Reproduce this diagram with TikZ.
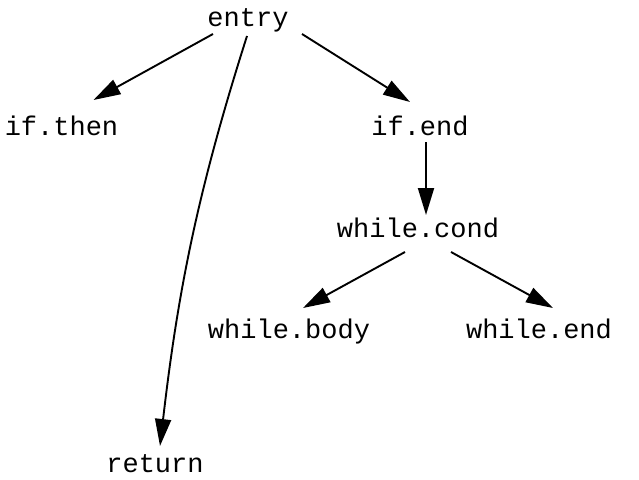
\documentclass[tikz,border=0pt]{standalone}
\usepackage{fontspec}
\setmonofont{Liberation Mono}
\usetikzlibrary{arrows.meta,calc}
\tikzset{
  lbl/.style={anchor=base, inner sep=0pt, font=\fontsize{27}{29}\selectfont\ttfamily},
  edge/.style={line width=1.9pt, -{Triangle[length=27pt,width=16pt]}}
}
\begin{document}
\begin{tikzpicture}[x=1pt,y=-1pt]
\useasboundingbox (0,0) rectangle (639,479);
\node[lbl] (entry) at (248,26) {entry};
\node[lbl] (ifthen) at (61.5,135) {if.then};
\node[lbl] (ifend) at (420,135) {if.end};
\node[lbl] (wcond) at (418,237) {while.cond};
\node[lbl] (wbody) at (289,338) {while.body};
\node[lbl] (wend) at (539,338) {while.end};
\node[lbl] (ret) at (155,472) {return};
\draw[edge] ($(entry.base)+(-35,8)$) -- ($(ifthen.base)+(32,-35)$);
\draw[edge] ($(entry.base)+(54,8)$) -- ($(ifend.base)+(-10,-33)$);
\draw[edge] ($(entry.base)+(-1,10)$) .. controls (198,190) and (178,290) .. ($(ret.base)+(5,-26)$);
\draw[edge] ($(ifend.base)+(6,7)$) -- ($(wcond.base)+(8,-22)$);
\draw[edge] ($(wcond.base)+(-13,15)$) -- ($(wbody.base)+(14,-30)$);
\draw[edge] ($(wcond.base)+(33,15)$) -- ($(wend.base)+(14,-30)$);
\end{tikzpicture}
\end{document}
